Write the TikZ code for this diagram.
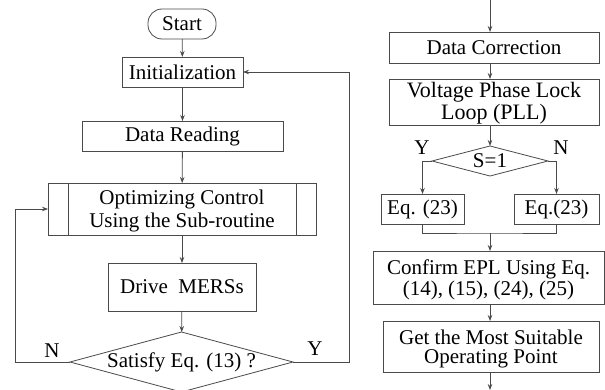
\documentclass[tikz,border=0pt]{standalone}
\usepackage{fontspec}
\setmainfont{Liberation Serif}
\usetikzlibrary{arrows.meta,shapes.geometric}
\definecolor{ln}{HTML}{4A4A4A}
% two-line text: #1 = font size, #2 = baseline spacing (pt), #3 / #4 = the lines
\newcommand{\twolines}[4]{\fontsize{#1}{#2}\selectfont\begin{tabular}[t]{@{}c@{}}#3\\#4\end{tabular}}
\begin{document}
\begin{tikzpicture}[x=1pt,y=-1pt,
  font=\fontsize{21}{23}\selectfont,
  every node/.style={inner sep=0pt, outer sep=0pt, text=black},
  box/.style={draw=ln, line width=0.8pt, rectangle, align=center},
  twobox/.style={box, text height=14pt, text depth=#1},
  term/.style={draw=ln, line width=0.8pt, rectangle, rounded corners=14pt, minimum width=68pt, minimum height=30pt},
  decision/.style={draw=ln, line width=0.8pt, diamond},
  conn/.style={draw=ln, line width=0.8pt},
  arr/.style={conn, -{Stealth[length=6pt,width=4.5pt]}},
  lbl/.style={font=\fontsize{21}{23}\selectfont}]
\useasboundingbox (0,0) rectangle (605,390);
% left column
\node[term] (start) at (182,24) {Start};
\node[box, minimum width=121pt, minimum height=30pt] (init) at (182.5,72) {Initialization};
\node[box, minimum width=201pt, minimum height=30pt] (read) at (182.5,136) {Data Reading};
\node[twobox=23pt, minimum width=268pt, minimum height=52pt] (opt) at (182,209) {\twolines{21}{23}{Optimizing Control}{Using the Sub-routine}};
\draw[conn] ([xshift=20pt]opt.north west) -- ([xshift=20pt]opt.south west);
\draw[conn] ([xshift=-20pt]opt.north east) -- ([xshift=-20pt]opt.south east);
\node[box, minimum width=148pt, minimum height=48pt] (drive) at (182,287) {Drive~~MERSs};
\node[decision, minimum width=223pt, minimum height=60pt, label=center:{Satisfy Eq. (13) ?}] (sat) at (181.5,362) {};
\coordinate (nl) at (15,362);
\coordinate (yl) at (349,362);
\draw[arr] (start) -- (init);
\draw[arr] (init) -- (read);
\draw[arr] (read) -- (opt);
\draw[arr] (opt) -- (drive);
\draw[arr] (drive) -- (sat);
\draw[arr] (sat.west) -- (nl) |- (opt.west);
\draw[arr] (sat.east) -- (yl) |- (init.east);
\node[lbl] (nlab) at (52,351) {N};
\node[lbl] (ylab) at (315,349) {Y};
% right column
\coordinate (ax) at (490,0);
\coordinate (ab) at (490,390);
\node[box, minimum width=210pt, minimum height=31pt] (dc) at (494,47.5) {Data Correction};
\node[twobox=22pt, minimum width=210pt, minimum height=46pt] (pll) at (494,102) {\twolines{22}{22}{Voltage Phase Lock}{Loop (PLL)}};
\node[decision, minimum width=116pt, minimum height=30pt, label=center:{S=1}] (s) at (490,161) {};
\node[box, minimum width=83pt, minimum height=30pt] (eql) at (422.5,209) {Eq. (23)};
\node[box, minimum width=85pt, minimum height=30pt] (eqr) at (556.5,209) {Eq.(23)};
\coordinate (mrg) at (490,233);
\node[twobox=20pt, minimum width=231pt, minimum height=53pt] (conf) at (488.5,277.5) {\twolines{21}{20}{Confirm EPL Using Eq.}{(14), (15), (24), (25)}};
\node[twobox=19pt, minimum width=216pt, minimum height=51pt] (get) at (491,346.5) {\twolines{21}{19}{Get the Most Suitable}{Operating Point}};
\draw[arr] (ax) -- (dc.north -| ax);
\draw[arr] (dc.south -| ax) -- (pll.north -| ax);
\draw[arr] (pll.south -| ax) -- (s.north);
\draw[arr] (s.west) -| (eql.north);
\draw[arr] (s.east) -| (eqr.north);
\draw[conn] (eql.south) |- (mrg) -| (eqr.south);
\draw[arr] (mrg) -- (conf.north -| mrg);
\draw[arr] (conf.south -| ax) -- (get.north -| ax);
\draw[arr] (get.south -| ab) -- (ab);
\node[lbl] (sy) at (422,148) {Y};
\node[lbl] (sn) at (561,148) {N};
\end{tikzpicture}
\end{document}
